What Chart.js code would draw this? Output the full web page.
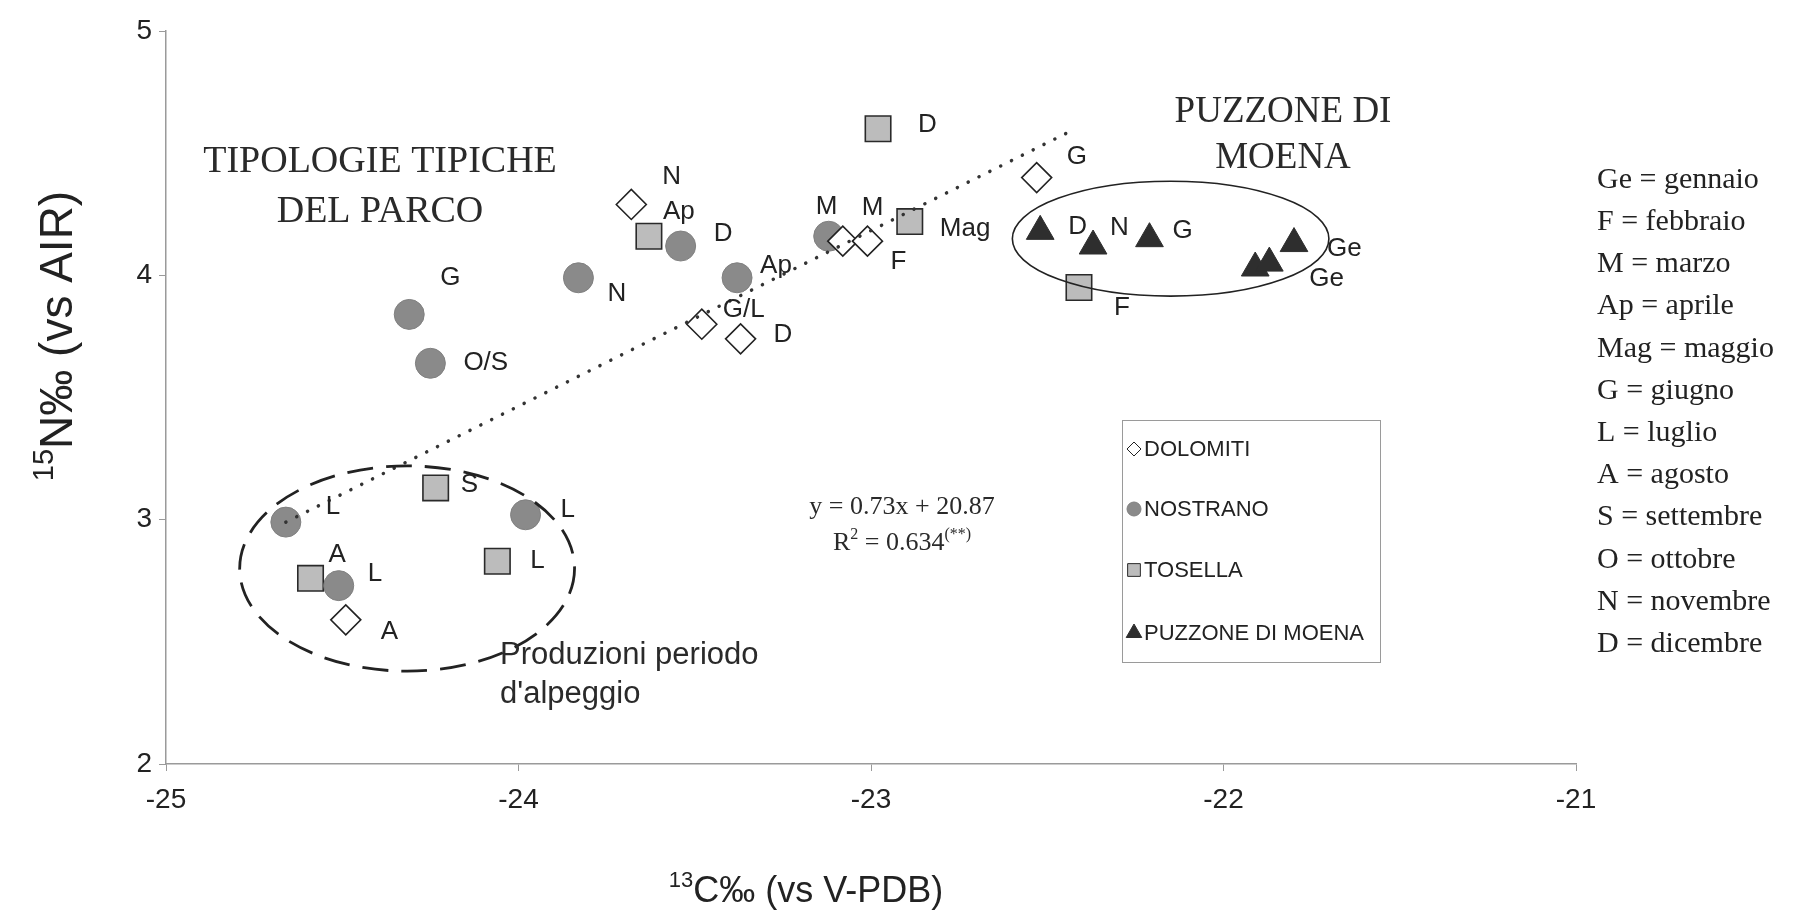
<!DOCTYPE html>
<html>
<head>
<meta charset="utf-8">
<script src="https://cdn.jsdelivr.net/npm/chart.js@4.4.0/dist/chart.umd.min.js"></script>
<style>
  html, body { margin: 0; padding: 0; background: #fff; }
  #wrap { width: 1814px; height: 922px; }
</style>
</head>
<body>
<div id="wrap"><canvas id="isotopeChart"></canvas></div>
<script>
// values (x = d13C, y = d15N)
const dolomitiX = [-23.68, -23.48, -23.37, -23.08, -23.01, -22.53, -24.49]
const dolomitiY = [4.29, 3.80, 3.74, 4.14, 4.14, 4.40, 2.59]
const dolomitiLabels = ['N', 'G/L', 'D', 'M', 'F', 'G', 'A']

const nostranoX = [-24.31, -24.25, -23.83, -23.54, -23.38, -23.12, -24.66, -24.51, -23.98]
const nostranoY = [3.84, 3.64, 3.99, 4.12, 3.99, 4.16, 2.99, 2.73, 3.02]
const nostranoLabels = ['G', 'O/S', 'N', 'D', 'Ap', 'M', 'L', 'L', 'L']

const tosellaX = [-22.98, -23.63, -22.89, -22.41, -24.235, -24.59, -24.06]
const tosellaY = [4.60, 4.16, 4.22, 3.95, 3.13, 2.76, 2.83]
const tosellaLabels = ['D', 'Ap', 'Mag', 'F', 'S', 'A', 'L']

const puzzoneX = [-22.52, -22.37, -22.21, -21.80, -21.91, -21.87]
const puzzoneY = [4.18, 4.12, 4.15, 4.13, 4.03, 4.05]
const puzzoneLabels = ['D', 'N', 'G', 'Ge', '', 'Ge']

// dotted regression line as drawn in the figure
const trendX = [-24.66, -22.42]
const trendY = [2.99, 4.60]

// ellipses: [centre x, centre y, half width, half height] in data units
const alpeggioEllipse = [-24.316, 2.80, 0.475, 0.42]
const moenaEllipse = [-22.15, 4.15, 0.449, 0.235]

const xTicks = [-25, -24, -23, -22, -21]
const yTicks = [2, 3, 4, 5]

const monthAbbr = ['Ge', 'F', 'M', 'Ap', 'Mag', 'G', 'L', 'A', 'S', 'O', 'N', 'D']
const monthNames = ['gennaio', 'febbraio', 'marzo', 'aprile', 'maggio', 'giugno',
  'luglio', 'agosto', 'settembre', 'ottobre', 'novembre', 'dicembre']

// label offsets from the marker, in pixels
const labelOffsets = {
  DOLOMITI: [[31, -28], [21, -14], [33, -4], [19, -33], [23, 21], [30, -21], [35, 12]],
  NOSTRANO: [[31, -37], [33, 0], [29, 16], [33, -12], [23, -12], [-13, -29], [40, -15], [29, -12], [35, -5]],
  TOSELLA: [[40, -4], [14, -24], [30, 7], [35, 20], [25, -3], [18, -23], [33, 0]],
  'PUZZONE DI MOENA': [[28, -5], [17, -18], [23, -8], [33, 5], [0, 0], [40, 16]]
}

const sans = '"Liberation Sans", Arial, sans-serif'
const serif = '"Liberation Serif", "Times New Roman", serif'

function toPoints(xs, ys) {
  return xs.map((x, i) => ({ x: x, y: ys[i] }))
}

// draws a run of text pieces, some as superscript; align = 'left' | 'center'
function drawRich(ctx, parts, x, y, size, family, align) {
  const supSize = Math.round(size * 0.62)
  let total = 0
  parts.forEach(p => {
    ctx.font = (p[1] ? supSize : size) + 'px ' + family
    total += ctx.measureText(p[0]).width
  })
  let cx = align === 'center' ? x - total / 2 : x
  ctx.textBaseline = 'alphabetic'
  ctx.textAlign = 'left'
  parts.forEach(p => {
    ctx.font = (p[1] ? supSize : size) + 'px ' + family
    ctx.fillText(p[0], cx, p[1] ? y - size * 0.42 : y)
    cx += ctx.measureText(p[0]).width
  })
}

const datasets = [
  {
    label: 'trend',
    data: toPoints(trendX, trendY),
    showLine: true,
    borderColor: '#333',
    borderWidth: 3.5,
    borderDash: [0.1, 12],
    borderCapStyle: 'round',
    pointRadius: 0,
    order: 0
  },
  {
    label: 'DOLOMITI',
    data: toPoints(dolomitiX, dolomitiY),
    labels: dolomitiLabels,
    pointStyle: 'rectRot',
    pointRadius: 15,
    backgroundColor: '#fff',
    borderColor: '#222',
    borderWidth: 1.6,
    order: 1
  },
  {
    label: 'NOSTRANO',
    data: toPoints(nostranoX, nostranoY),
    labels: nostranoLabels,
    pointStyle: 'circle',
    pointRadius: 15,
    backgroundColor: '#8a8a8a',
    borderColor: '#808080',
    borderWidth: 1,
    order: 1
  },
  {
    label: 'TOSELLA',
    data: toPoints(tosellaX, tosellaY),
    labels: tosellaLabels,
    pointStyle: 'rect',
    pointRadius: 18,
    backgroundColor: '#bcbcbc',
    borderColor: '#2a2a2a',
    borderWidth: 1.6,
    order: 1
  },
  {
    label: 'PUZZONE DI MOENA',
    data: toPoints(puzzoneX, puzzoneY),
    labels: puzzoneLabels,
    pointStyle: 'triangle',
    pointRadius: 16,
    backgroundColor: '#2e2e2e',
    borderColor: '#2e2e2e',
    borderWidth: 1,
    order: 1
  }
]

const annotations = {
  id: 'annotations',
  afterDatasetsDraw(chart) {
    const ctx = chart.ctx
    const xs = chart.scales.x
    const ys = chart.scales.y
    ctx.save()

    // ellipses around the groups
    function ellipse(e, dash, width) {
      const cx = xs.getPixelForValue(e[0])
      const cy = ys.getPixelForValue(e[1])
      const rx = Math.abs(xs.getPixelForValue(e[0] + e[2]) - cx)
      const ry = Math.abs(ys.getPixelForValue(e[1] + e[3]) - cy)
      ctx.beginPath()
      ctx.setLineDash(dash)
      ctx.lineWidth = width
      ctx.strokeStyle = '#222'
      ctx.ellipse(cx, cy, rx, ry, 0, 0, Math.PI * 2)
      ctx.stroke()
    }
    ellipse(alpeggioEllipse, [26, 13], 2.8)
    ellipse(moenaEllipse, [], 1.6)
    ctx.setLineDash([])

    // month letters next to each marker
    ctx.fillStyle = '#222'
    ctx.font = '26px ' + sans
    ctx.textAlign = 'left'
    ctx.textBaseline = 'middle'
    chart.data.datasets.forEach((ds, di) => {
      if (!ds.labels) return
      const meta = chart.getDatasetMeta(di)
      const offs = labelOffsets[ds.label]
      meta.data.forEach((pt, i) => {
        if (!ds.labels[i]) return
        ctx.fillText(ds.labels[i], pt.x + offs[i][0], pt.y + offs[i][1])
      })
    })

    // group titles
    ctx.fillStyle = '#2a2a2a'
    ctx.textAlign = 'center'
    ctx.font = '38px ' + serif
    ctx.fillText('TIPOLOGIE TIPICHE', 380, 162)
    ctx.fillText('DEL PARCO', 380, 212)
    ctx.font = '37px ' + serif
    ctx.fillText('PUZZONE DI', 1283, 112)
    ctx.fillText('MOENA', 1283, 158)

    // regression text
    drawRich(ctx, [['y = 0.73x + 20.87', false]], 902, 514, 26, serif, 'center')
    drawRich(ctx, [['R', false], ['2', true], [' = 0.634', false], ['(**)', true]], 902, 550, 26, serif, 'center')

    // note under the dashed ellipse
    ctx.textAlign = 'left'
    ctx.textBaseline = 'middle'
    ctx.font = '31px ' + sans
    ctx.fillText('Produzioni periodo', 500, 655)
    ctx.fillText("d'alpeggio", 500, 694)

    // legend box
    ctx.strokeStyle = '#9a9a9a'
    ctx.lineWidth = 1
    ctx.strokeRect(1122.5, 420.5, 258, 242)
    const legendY = [449, 509, 570, 633]
    const legendR = [7, 7, 9, 9]
    chart.data.datasets.slice(1).forEach((ds, i) => {
      ctx.fillStyle = ds.backgroundColor
      ctx.strokeStyle = ds.borderColor
      Chart.helpers.drawPoint(ctx, {
        pointStyle: ds.pointStyle, radius: legendR[i], rotation: 0, borderWidth: ds.borderWidth
      }, 1134, legendY[i])
      ctx.fillStyle = '#222'
      ctx.font = '22px ' + sans
      ctx.textAlign = 'left'
      ctx.textBaseline = 'middle'
      ctx.fillText(ds.label, 1144, legendY[i] + 1)
    })

    // month key on the right
    ctx.fillStyle = '#222'
    ctx.font = '30px ' + serif
    ctx.textAlign = 'left'
    ctx.textBaseline = 'middle'
    monthAbbr.forEach((m, i) => {
      ctx.fillText(m + ' = ' + monthNames[i], 1597, 180 + i * 42.2)
    })

    // axis titles with superscripts
    ctx.fillStyle = '#222'
    drawRich(ctx, [['13', true], ['C‰ (vs V-PDB)', false]], 806, 902, 36, sans, 'center')
    ctx.translate(72, 336)
    ctx.rotate(-Math.PI / 2)
    drawRich(ctx, [['15', true], ['N‰ (vs AIR)', false]], 0, 0, 46, sans, 'center')
    ctx.restore()
  }
}

new Chart(document.getElementById('isotopeChart'), {
  type: 'scatter',
  data: { datasets: datasets },
  plugins: [annotations],
  options: {
    responsive: true,
    maintainAspectRatio: false,
    animation: false,
    layout: { padding: { top: 31, right: 238, bottom: 0, left: 0 } },
    plugins: {
      legend: { display: false },
      tooltip: { enabled: false }
    },
    scales: {
      x: {
        type: 'linear',
        min: xTicks[0],
        max: xTicks[xTicks.length - 1],
        afterBuildTicks: (axis) => { axis.ticks = xTicks.map(v => ({ value: v })) },
        afterFit: (axis) => { axis.height = 158 },
        grid: { drawOnChartArea: false, tickLength: 7, color: '#9a9a9a' },
        border: { color: '#9a9a9a', width: 1.5 },
        ticks: { color: '#222', padding: 12, font: { family: sans, size: 28 } }
      },
      y: {
        type: 'linear',
        min: yTicks[0],
        max: yTicks[yTicks.length - 1],
        afterBuildTicks: (axis) => { axis.ticks = yTicks.map(v => ({ value: v })) },
        afterFit: (axis) => { axis.width = 166 },
        grid: { drawOnChartArea: false, tickLength: 7, color: '#9a9a9a' },
        border: { color: '#9a9a9a', width: 1.5 },
        ticks: { color: '#222', padding: 7, font: { family: sans, size: 28 } }
      }
    }
  }
})
</script>
</body>
</html>
